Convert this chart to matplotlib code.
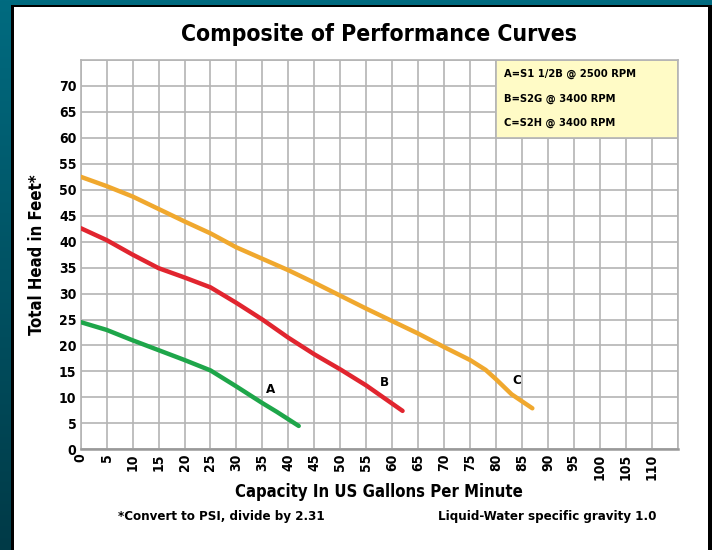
import numpy as np
import matplotlib.pyplot as plt
from matplotlib.colors import LinearSegmentedColormap
from matplotlib.patches import Rectangle


# -----------------------------
# Data
# -----------------------------

gpm_a = [0, 5, 10, 15, 20, 25, 30, 35, 37.8, 42]
head_a = [24.5, 23.0, 21.0, 19.1, 17.2, 15.2, 12.1, 8.9, 7.2, 4.5]

gpm_b = [0, 5, 10, 15, 20, 25, 30, 35, 40, 45, 50, 55, 62]
head_b = [42.6, 40.3, 37.5, 34.9, 33.1, 31.2, 28.2, 25.0, 21.5, 18.3, 15.4, 12.3, 7.4]

gpm_c = [0, 5, 10, 15, 20, 25, 30, 35, 40, 45, 50, 55, 60, 65, 70, 75, 78, 80, 83, 87]
head_c = [52.5, 50.7, 48.7, 46.3, 43.9, 41.6, 38.9, 36.7, 34.5, 32.1, 29.6, 27.1,
          24.7, 22.3, 19.7, 17.2, 15.3, 13.5, 10.6, 7.9]

curve_letters = ["A", "B", "C"]
letter_x = [36.6, 58.5, 83.9]
letter_y = [11.6, 12.9, 13.2]

legend_lines = ["A=S1 1/2B @ 2500 RPM", "B=S2G @ 3400 RPM", "C=S2H @ 3400 RPM"]

x_ticks = list(range(0, 115, 5))
y_ticks = list(range(0, 75, 5))


# -----------------------------
# Style
# -----------------------------

plt.rcParams["font.family"] = ["DejaVu Sans"]
plt.rcParams["font.stretch"] = "condensed"
plt.rcParams["font.weight"] = "bold"

green = "#1ea64a"
red = "#e1252f"
orange = "#f0a82e"
grid_col = "#b4b4b4"

W, H = 712, 550
fig = plt.figure(figsize=(W / 100, H / 100), dpi=100)

# teal gradient background
bg = fig.add_axes([0, 0, 1, 1])
grad = np.linspace(0, 1, 256).reshape(-1, 1)
teal = LinearSegmentedColormap.from_list("teal", ["#006b80", "#003a47"])
bg.imshow(grad, aspect="auto", cmap=teal, extent=[0, W, H, 0])
bg.set_xlim(0, W)
bg.set_ylim(H, 0)
bg.axis("off")

# black frame + white panel
bg.add_patch(Rectangle((11, 5), W - 11, H - 5, facecolor="black", edgecolor="none"))
bg.add_patch(Rectangle((13.5, 7), 694.5, H - 7, facecolor="white", edgecolor="none"))


# -----------------------------
# Plot area
# -----------------------------

ax = fig.add_axes([80.7 / W, 1 - 449.3 / H, (677.7 - 80.7) / W, (449.3 - 60) / H])
ax.set_facecolor("white")
ax.set_xlim(0, 115)
ax.set_ylim(0, 75)

ax.set_xticks(x_ticks)
ax.set_yticks(y_ticks)
ax.set_xticks(range(0, 120, 5), minor=True)
ax.set_yticks(range(0, 80, 5), minor=True)
ax.grid(True, which="both", color=grid_col, linewidth=1.2)
ax.set_axisbelow(True)

for side in ["top", "right", "left"]:
    ax.spines[side].set_color(grid_col)
    ax.spines[side].set_linewidth(1.2)
ax.spines["bottom"].set_color("#999999")
ax.spines["bottom"].set_linewidth(1.8)

ax.tick_params(axis="both", which="both", length=0, pad=3, labelsize=10)
ax.tick_params(axis="x", labelrotation=90, pad=3)
for lab in ax.get_xticklabels() + ax.get_yticklabels():
    lab.set_fontweight("bold")

# legend box
ax.add_patch(Rectangle((80, 60), 35, 15, facecolor="#fffbc6", edgecolor=grid_col,
                       linewidth=1.2, zorder=2))
for i, txt in enumerate(legend_lines):
    ax.text(81.5, 72.3 - i * 4.75, txt, fontsize=8, fontweight="bold",
            ha="left", va="center", zorder=3)

# curves
for gx, gy, col in [(gpm_a, head_a, green), (gpm_b, head_b, red), (gpm_c, head_c, orange)]:
    ax.plot(gx, gy, color=col, linewidth=3.2, solid_capstyle="round",
            solid_joinstyle="round", zorder=4)

for letter, lx, ly in zip(curve_letters, letter_x, letter_y):
    ax.text(lx, ly, letter, fontsize=9.5, fontweight="bold", ha="center", va="center",
            zorder=5)

ax.set_title("Composite of Performance Curves", fontsize=16.5, fontweight="bold", pad=14)
ax.set_ylabel("Total Head in Feet*", fontsize=12, fontweight="bold")
ax.set_xlabel("Capacity In US Gallons Per Minute", fontsize=12, fontweight="bold")
ax.yaxis.set_label_coords((37 - 80.7) / 597, 0.5)
ax.yaxis.label.set_va("center")
ax.xaxis.set_label_coords(0.5, (449.3 - 491.7) / 389.3)
ax.xaxis.label.set_va("center")

fig.text(118 / W, 1 - 516.5 / H, "*Convert to PSI, divide by 2.31", fontsize=9.5,
         fontweight="bold", ha="left", va="center")
fig.text(656 / W, 1 - 516.5 / H, "Liquid-Water specific gravity 1.0", fontsize=9.5,
         fontweight="bold", ha="right", va="center")

fig.savefig("out.png", dpi=100)
